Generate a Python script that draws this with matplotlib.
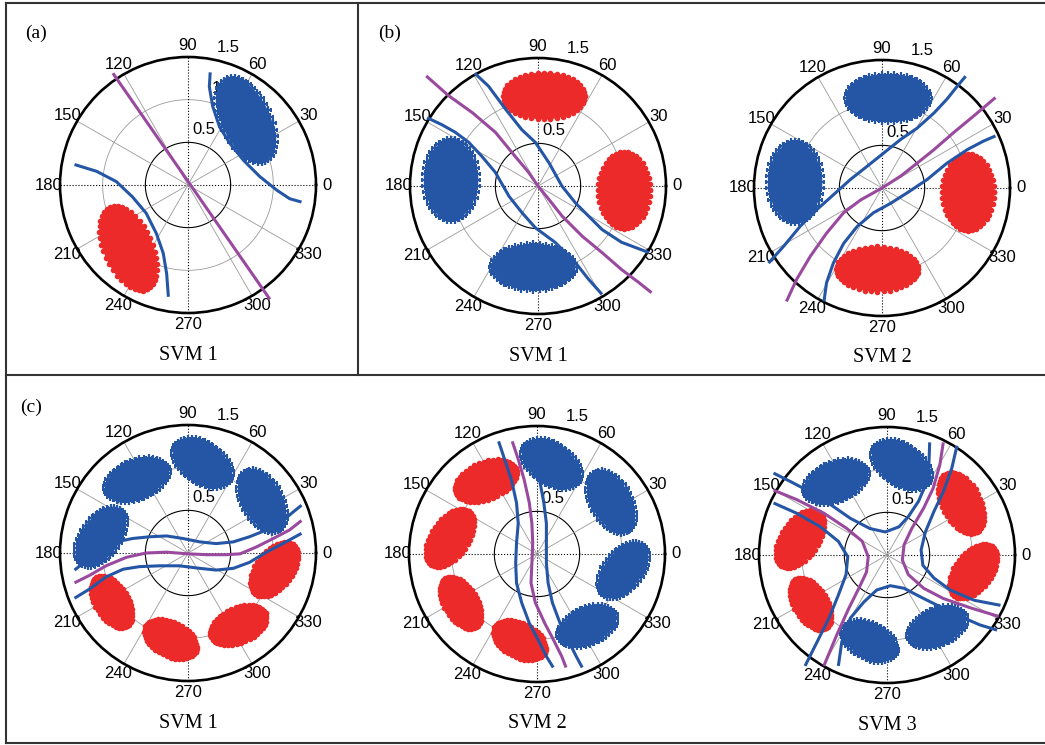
import numpy as np
import matplotlib.pyplot as plt
from matplotlib.lines import Line2D

plt.rcParams['font.family'] = ['Liberation Sans', 'DejaVu Sans']

BLUE = '#2556a5'
RED = '#ec2a2a'
PURPLE = '#9a4a9e'
W, H = 1045, 745
R_PX = 128          # radius of the outer (r = 1.5) circle in pixels

# ---- clusters: centre x, centre y, width, height, tilt (deg), in r-units ----
a_cx = [0.68, -0.70]
a_cy = [0.76, -0.74]
a_w = [1.06, 1.06]
a_h = [0.56, 0.57]
a_tilt = [-65, -66]
a_cls = ['b', 'r']

b_cx = [0.07, 1.01, -1.02, -0.055]
b_cy = [1.055, -0.05, 0.07, -0.95]
b_w = [0.96, 0.61, 0.62, 0.96]
b_h = [0.55, 0.90, 0.94, 0.53]
b_tilt = [0, 0, 0, 0]
b1_cls = ['r', 'r', 'b', 'b']
b2_cls = ['b', 'r', 'b', 'r']

c_cx = [0.17, -0.60, -1.02, 0.87, 1.01, 0.59, -0.205, -0.895]
c_cy = [1.055, 0.86, 0.19, 0.61, -0.19, -0.845, -1.01, -0.57]
c_w = [0.74, 0.76, 0.77, 0.78, 0.73, 0.70, 0.66, 0.68]
c_h = [0.46, 0.44, 0.44, 0.45, 0.43, 0.41, 0.40, 0.39]
c_tilt = [-34, 22, 55, -62, 53, 24, -27, -58]
c1_cls = ['b', 'b', 'b', 'b', 'r', 'r', 'r', 'r']
c2_cls = ['b', 'r', 'r', 'b', 'b', 'b', 'r', 'r']
c3_cls = ['b', 'b', 'r', 'r', 'r', 'b', 'b', 'r']

# ---- decision curves (x, y) in r-units ----
a_blue1 = [(0.26, 1.32), (0.25, 1.15), (0.29, 0.92), (0.37, 0.68), (0.49, 0.49),
           (0.65, 0.29), (0.84, 0.10), (1.04, -0.06), (1.19, -0.16), (1.33, -0.20)]
a_blue2 = [(-1.33, 0.24), (-1.07, 0.16), (-0.84, 0.04), (-0.65, -0.14), (-0.49, -0.33),
           (-0.37, -0.57), (-0.29, -0.80), (-0.25, -1.04), (-0.23, -1.31)]
a_purple = [(-0.88, 1.31), (0.96, -1.34)]

b1_blue1 = [(-0.74, 1.32), (-0.58, 1.17), (-0.38, 0.90), (-0.19, 0.66), (-0.03, 0.51),
            (0.13, 0.27), (0.28, 0.0), (0.44, -0.20), (0.59, -0.35), (0.75, -0.51),
            (0.98, -0.66), (1.30, -0.78)]
b1_blue2 = [(-1.30, 0.80), (-1.13, 0.72), (-0.97, 0.63), (-0.81, 0.51), (-0.66, 0.35),
            (-0.50, 0.16), (-0.34, -0.12), (-0.19, -0.31), (-0.03, -0.49), (0.20, -0.66),
            (0.44, -0.90), (0.59, -1.09), (0.75, -1.27)]
b1_purple = [(-1.31, 1.29), (-1.05, 1.06), (-0.77, 0.86), (-0.50, 0.63), (-0.27, 0.35),
             (-0.11, 0.16), (0.0, 0.0), (0.13, -0.16), (0.28, -0.35), (0.52, -0.59),
             (0.75, -0.78), (0.98, -0.98), (1.18, -1.13), (1.33, -1.25)]

b2_blue1 = [(-1.33, -0.88), (-1.15, -0.68), (-0.96, -0.45), (-0.76, -0.25), (-0.57, -0.08),
            (-0.37, 0.10), (-0.18, 0.25), (0.02, 0.41), (0.22, 0.57), (0.41, 0.70),
            (0.61, 0.88), (0.76, 1.04), (0.88, 1.19), (0.98, 1.31)]
b2_purple = [(-1.12, -1.33), (-1.00, -1.07), (-0.84, -0.80), (-0.65, -0.53), (-0.45, -0.29),
             (-0.25, -0.14), (0.0, 0.0), (0.22, 0.14), (0.41, 0.29), (0.61, 0.45),
             (0.84, 0.65), (1.07, 0.84), (1.33, 1.06)]
b2_blue2 = [(-0.68, -1.33), (-0.65, -1.11), (-0.57, -0.88), (-0.45, -0.65), (-0.29, -0.45),
            (-0.10, -0.29), (0.10, -0.18), (0.29, -0.06), (0.53, 0.10), (0.76, 0.29),
            (1.00, 0.45), (1.19, 0.55), (1.33, 0.61)]

c1_blue1 = [(-1.33, -0.20), (-1.19, -0.09), (-1.04, 0.05), (-0.84, 0.13), (-0.65, 0.17),
            (-0.45, 0.19), (-0.25, 0.20), (-0.06, 0.17), (0.14, 0.13), (0.33, 0.11),
            (0.53, 0.13), (0.72, 0.19), (0.92, 0.27), (1.11, 0.38), (1.33, 0.56)]
c1_purple = [(-1.33, -0.35), (-1.15, -0.26), (-0.96, -0.15), (-0.72, -0.05), (-0.49, 0.0),
             (-0.25, 0.01), (0.0, -0.01), (0.22, -0.02), (0.45, -0.02), (0.61, -0.01),
             (0.80, 0.07), (1.00, 0.17), (1.19, 0.27), (1.33, 0.38)]
c1_blue2 = [(-1.33, -0.53), (-1.15, -0.42), (-0.96, -0.28), (-0.76, -0.19), (-0.57, -0.16),
            (-0.33, -0.15), (-0.10, -0.15), (0.14, -0.18), (0.33, -0.20), (0.53, -0.18),
            (0.72, -0.11), (0.92, 0.01), (1.11, 0.11), (1.33, 0.23)]

c2_blue1 = [(-0.45, 1.32), (-0.38, 1.11), (-0.30, 0.87), (-0.24, 0.60), (-0.22, 0.36),
            (-0.24, 0.13), (-0.25, -0.11), (-0.24, -0.34), (-0.18, -0.57), (-0.09, -0.81),
            (0.01, -1.00), (0.11, -1.20), (0.19, -1.33)]
c2_purple = [(-0.29, 1.32), (-0.22, 1.11), (-0.15, 0.87), (-0.09, 0.60), (-0.06, 0.36),
             (-0.05, 0.13), (-0.06, -0.11), (-0.07, -0.34), (-0.02, -0.57), (0.09, -0.81),
             (0.19, -1.00), (0.29, -1.20), (0.34, -1.33)]
c2_blue2 = [(-0.13, 1.32), (-0.05, 1.11), (0.03, 0.87), (0.08, 0.60), (0.11, 0.36),
            (0.11, 0.13), (0.11, -0.11), (0.13, -0.34), (0.18, -0.57), (0.27, -0.81),
            (0.36, -1.00), (0.46, -1.20), (0.53, -1.33)]

c3_blue_top = [(-1.33, 0.96), (-1.13, 0.86), (-0.90, 0.74), (-0.66, 0.59), (-0.43, 0.43),
               (-0.20, 0.31), (-0.02, 0.27), (0.14, 0.33), (0.25, 0.45), (0.37, 0.63),
               (0.45, 0.82), (0.49, 1.02), (0.50, 1.32)]
c3_blue_right = [(0.82, 1.28), (0.76, 1.02), (0.66, 0.74), (0.55, 0.51), (0.45, 0.27),
                 (0.40, 0.06), (0.42, -0.12), (0.55, -0.27), (0.74, -0.41), (1.02, -0.53),
                 (1.33, -0.59)]
c3_blue_bottom = [(-0.57, -1.30), (-0.53, -1.02), (-0.43, -0.74), (-0.27, -0.55), (-0.12, -0.41),
                  (0.04, -0.36), (0.20, -0.39), (0.39, -0.49), (0.63, -0.61), (0.86, -0.72),
                  (1.09, -0.82), (1.29, -0.88)]
c3_blue_left = [(-1.33, 0.61), (-1.06, 0.49), (-0.78, 0.33), (-0.57, 0.16), (-0.46, -0.02),
                (-0.48, -0.23), (-0.57, -0.47), (-0.68, -0.74), (-0.82, -1.02), (-0.96, -1.30)]
c3_purple_left = [(-1.33, 0.76), (-1.06, 0.65), (-0.74, 0.49), (-0.47, 0.31), (-0.29, 0.16),
                  (-0.22, -0.02), (-0.24, -0.20), (-0.33, -0.39), (-0.45, -0.63), (-0.59, -0.94),
                  (-0.74, -1.30)]
c3_purple_right = [(0.66, 1.32), (0.62, 1.06), (0.54, 0.78), (0.43, 0.55), (0.29, 0.31),
                   (0.20, 0.12), (0.18, -0.06), (0.25, -0.23), (0.43, -0.39), (0.66, -0.51),
                   (0.98, -0.62), (1.31, -0.72)]

fig = plt.figure(figsize=(W / 100, H / 100), dpi=100)


def to_polar(x, y):
    x, y = np.asarray(x, float), np.asarray(y, float)
    return np.mod(np.arctan2(y, x), 2 * np.pi), np.hypot(x, y)


def polar_axes(cx, cy, title):
    ax = fig.add_axes([(cx - R_PX) / W, (H - cy - R_PX) / H, 2 * R_PX / W, 2 * R_PX / H],
                      projection='polar')
    ax.set_xlim(0, 2 * np.pi)
    ax.set_ylim(0, 1.5)
    ax.set_yticks([])
    ax.set_thetagrids(np.arange(0, 360, 30), [str(a) for a in range(0, 360, 30)], fontsize=12)
    ax.tick_params(axis='x', pad=1, length=0)
    ax.grid(False)
    ax.spines['polar'].set_linewidth(1.9)
    t = np.linspace(0, 2 * np.pi, 361)
    ax.plot(t, np.full_like(t, 0.5), color='k', lw=0.8, zorder=1)
    ax.plot(t, np.full_like(t, 1.0), color='#9a9a9a', lw=0.6, zorder=1)
    for ang in range(0, 360, 30):
        major = ang % 90 == 0
        ax.plot([np.deg2rad(ang)] * 2, [0, 1.5], color='k' if major else '#9a9a9a',
                lw=0.8 if major else 0.6, ls=':' if major else '-', zorder=1)
    for rv, lab in [(0.5, '0.5'), (1.0, '1'), (1.5, '1.5')]:
        ax.text(np.deg2rad(73.5), rv + 0.175, lab, ha='center', va='center',
                fontsize=12, zorder=1, clip_on=False)
    fig.text(cx / W, 1 - (cy + 170) / H, title, ha='center', va='center',
             fontsize=14.5, family='Liberation Serif')
    return ax


def clusters(ax, cx, cy, w, h, tilt, cls):
    s = np.linspace(0, 2 * np.pi, 121)
    for x0, y0, ww, hh, tt, k in zip(cx, cy, w, h, tilt, cls):
        c, sn = np.cos(np.deg2rad(tt)), np.sin(np.deg2rad(tt))
        ex, ey = ww / 2 * np.cos(s), hh / 2 * np.sin(s)
        th, r = to_polar(x0 + ex * c - ey * sn, y0 + ex * sn + ey * c)
        col = BLUE if k == 'b' else RED
        ax.fill(th, r, color=col, lw=0, zorder=2)
        mk = dict(marker='+', ms=6, mew=1.6) if k == 'b' else dict(marker='o', ms=4, mew=0)
        ax.plot(th[::3], r[::3], ls='none', color=col, zorder=2, **mk)


def curves(ax, blues, purples):
    for pts, col in [(p, BLUE) for p in blues] + [(p, PURPLE) for p in purples]:
        th, r = to_polar(*zip(*pts))
        ax.plot(th, r, color=col, lw=2.2, zorder=3, clip_on=False, solid_capstyle='butt')


ax = polar_axes(188, 185, 'SVM 1')
clusters(ax, a_cx, a_cy, a_w, a_h, a_tilt, a_cls)
curves(ax, [a_blue1, a_blue2], [a_purple])

ax = polar_axes(538, 186, 'SVM 1')
clusters(ax, b_cx, b_cy, b_w, b_h, b_tilt, b1_cls)
curves(ax, [b1_blue1, b1_blue2], [b1_purple])

ax = polar_axes(882, 188, 'SVM 2')
clusters(ax, b_cx, b_cy, b_w, b_h, b_tilt, b2_cls)
curves(ax, [b2_blue1, b2_blue2], [b2_purple])

ax = polar_axes(188, 553, 'SVM 1')
clusters(ax, c_cx, c_cy, c_w, c_h, c_tilt, c1_cls)
curves(ax, [c1_blue1, c1_blue2], [c1_purple])

ax = polar_axes(537, 554, 'SVM 2')
clusters(ax, c_cx, c_cy, c_w, c_h, c_tilt, c2_cls)
curves(ax, [c2_blue1, c2_blue2], [c2_purple])

ax = polar_axes(887, 555, 'SVM 3')
clusters(ax, c_cx, c_cy, c_w, c_h, c_tilt, c3_cls)
curves(ax, [c3_blue_top, c3_blue_right, c3_blue_bottom, c3_blue_left],
       [c3_purple_left, c3_purple_right])

# panel letters
for x, y, lab in [(36, 33, '(a)'), (390, 33, '(b)'), (31, 407, '(c)')]:
    fig.text(x / W, 1 - y / H, lab, ha='center', va='center', fontsize=14,
             family='Liberation Serif')

# table borders
for (x0, y0), (x1, y1) in [((6, 3), (1045, 3)), ((6, 3), (6, 742.5)),
                           ((6, 742.5), (1045, 742.5)), ((6, 375), (1045, 375)),
                           ((357.5, 3), (357.5, 375))]:
    fig.add_artist(Line2D([x0 / W, x1 / W], [1 - y0 / H, 1 - y1 / H],
                          transform=fig.transFigure, color='#333333', lw=1.5))

fig.savefig('out.png', dpi=100, facecolor='white')
